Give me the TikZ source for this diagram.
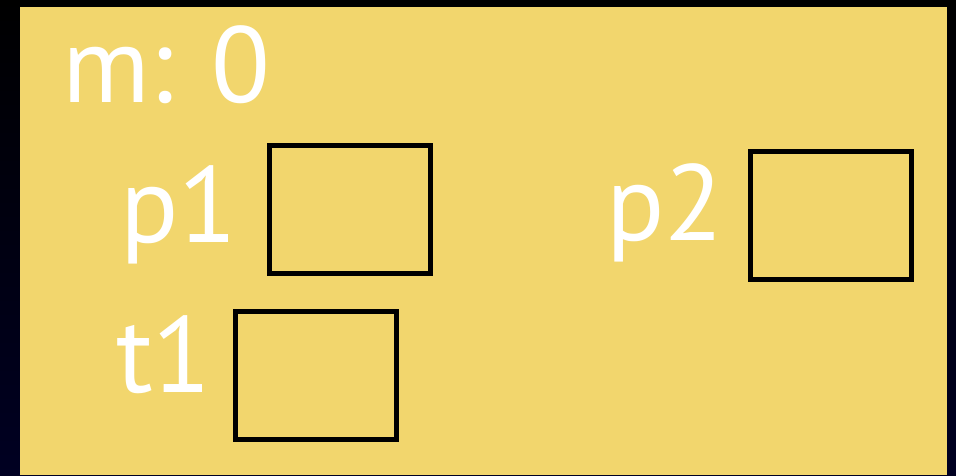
\documentclass[tikz,border=0pt]{standalone}
\usepackage{fontspec}
\setmainfont{PT Sans}
\usepackage{tikz}
\usetikzlibrary{calc}
\definecolor{card}{HTML}{F2D66D}
\definecolor{night}{HTML}{000022}

\begin{document}
\begin{tikzpicture}[
    x=1pt, y=-1pt,
    var label/.style={font=\fontsize{108}{108}\selectfont, text=white, anchor=base west, inner sep=0pt},
    slot/.style={draw, line width=5pt, minimum width=161pt, minimum height=128pt, inner sep=0pt},
]

% Backdrop
\shade[top color=black, bottom color=night] (0,0) rectangle (956,475);
\useasboundingbox (0,0) rectangle (956,475);

% Card
\fill[card] (20,7) rectangle (947,475);

% Counter
\node[var label] (counter) at (62,102) {m: 0};

% Variables and their slots
\node[var label] (p1) at (120,242) {p1};
\node[slot] (p1 slot) at (350,209.5) {};

\node[var label] (t1) at (116,392) {t1};
\node[slot] (t1 slot) at (315.5,375.5) {};

\node[var label] (p2) at (606,240) {p2};
\node[slot] (p2 slot) at (830.5,215) {};

\end{tikzpicture}
\end{document}
